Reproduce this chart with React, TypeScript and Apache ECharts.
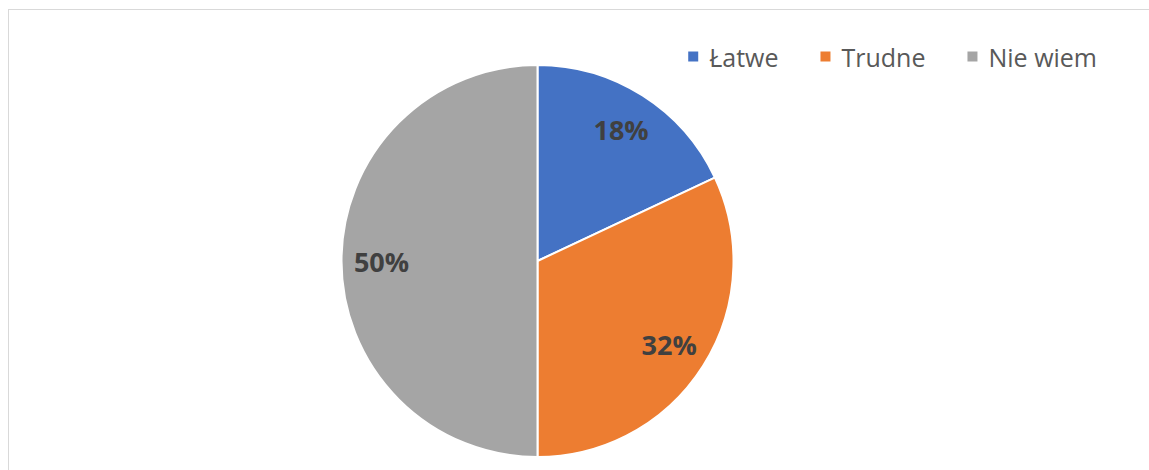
import React, { useEffect, useRef } from "react";
import * as echarts from "echarts";

const categories = ["Łatwe", "Trudne", "Nie wiem"];
const values = [18, 32, 50];
const colors = ["#4472C4", "#ED7D31", "#A5A5A5"];

export default function App() {
  const ref = useRef<HTMLDivElement>(null);
  useEffect(() => {
    document.body.style.overflow = "hidden";
    const chart = echarts.init(ref.current!, null, { renderer: "svg" });
    const data = categories.map((name, i) => ({
      name,
      value: values[i],
      itemStyle: { color: colors[i] },
    }));
    chart.setOption({
      animation: false,
      legend: {
        data: categories,
        top: 29,
        right: 46,
        itemWidth: 12,
        itemHeight: 12,
        itemGap: 40,
        icon: "rect",
        textStyle: {
          fontFamily: "Open Sans",
          fontSize: 25,
          color: "#595959",
          padding: [0, 0, 0, 5],
        },
      },
      series: [
        {
          type: "pie",
          center: [528.5, 251],
          radius: 196,
          startAngle: 90,
          clockwise: true,
          silent: true,
          label: { show: false },
          labelLine: { show: false },
          itemStyle: { borderColor: "#ffffff", borderWidth: 2 },
          data,
        },
        {
          type: "pie",
          center: [528.5, 251],
          radius: [110, 196],
          startAngle: 90,
          clockwise: true,
          silent: true,
          legendHoverLink: false,
          itemStyle: { color: "rgba(0,0,0,0)", borderWidth: 0 },
          label: {
            show: true,
            position: "inside",
            formatter: "{c}%",
            fontFamily: "Open Sans",
            fontWeight: "bold",
            fontSize: 27,
            color: "#404040",
          },
          labelLine: { show: false },
          data: categories.map((name, i) => ({ name, value: values[i] })),
        },
      ],
    });
    return () => chart.dispose();
  }, []);
  return (
    <div
      style={{
        position: "absolute",
        left: 8,
        top: 9,
        width: 1141,
        height: 461,
        borderTop: "1.5px solid #d9d9d9",
        borderLeft: "1.5px solid #d9d9d9",
        boxSizing: "border-box",
      }}
    >
      <div ref={ref} style={{ width: 1139, height: 459 }} />
    </div>
  );
}
